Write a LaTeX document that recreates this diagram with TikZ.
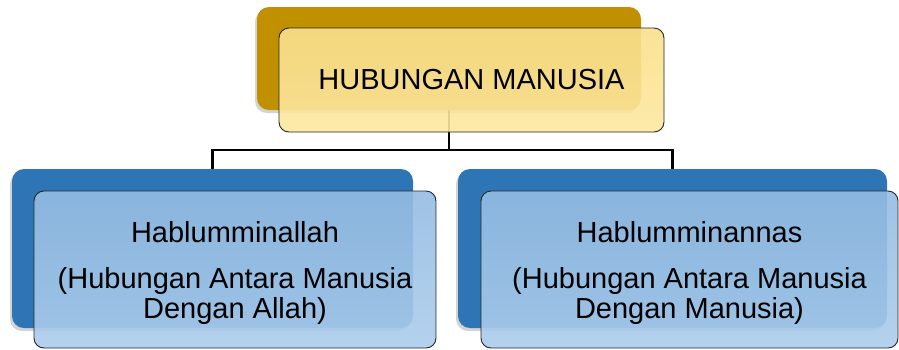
\documentclass[tikz,border=0pt]{standalone}
\usepackage{fontspec}
\setmainfont{Liberation Sans}
\usetikzlibrary{shadows}
\definecolor{goldback}{RGB}{192,144,0}
\definecolor{goldtop}{RGB}{250,224,140}
\definecolor{goldbot}{RGB}{253,232,160}
\definecolor{blueback}{RGB}{46,117,182}
\definecolor{bluetop}{RGB}{148,188,226}
\definecolor{bluebot}{RGB}{172,205,236}
\tikzset{
  backbox/.style={rounded corners=12pt, draw=none,
    drop shadow={shadow xshift=-2pt, shadow yshift=-3pt, opacity=0.35}},
  frontbox/.style={rounded corners=10pt, draw=black!85, line width=0.9pt, fill opacity=0.9},
  conn/.style={draw=black, line width=2.2pt},
  lbl/.style={font=\fontsize{29}{30}\selectfont, align=center, text=black}
}
\begin{document}
\begin{tikzpicture}[x=1pt,y=-1pt]
\useasboundingbox (0,0) rectangle (899,349);
% top box
\path[backbox, fill=goldback] (257,7) rectangle (641,110);
\coordinate (topb) at (449,110);
% left child back
\path[backbox, fill=blueback] (12,169) rectangle (413,328);
\coordinate (lb) at (212.5,169);
% right child back
\path[backbox, fill=blueback] (458,169) rectangle (887,328);
\coordinate (rb) at (672.5,169);
% connectors
\coordinate (mid) at (449,150);
\draw[conn] (topb) -- (mid);
\draw[conn] (mid) -| (lb);
\draw[conn] (mid) -| (rb);
% front boxes
\path[frontbox, top color=goldtop, bottom color=goldbot] (279,28) rectangle (664,132);
\node[lbl] (top) at (471.5,80) {HUBUNGAN MANUSIA};
\path[frontbox, top color=bluetop, bottom color=bluebot] (34,191) rectangle (436,348);
\node[lbl] (left) at (235,273) {Hablumminallah\\[16pt](Hubungan Antara Manusia\\Dengan Allah)};
\path[frontbox, top color=bluetop, bottom color=bluebot] (481,191) rectangle (898,348);
\node[lbl] (right) at (689.5,273) {Hablumminannas\\[16pt](Hubungan Antara Manusia\\Dengan Manusia)};
\end{tikzpicture}
\end{document}
